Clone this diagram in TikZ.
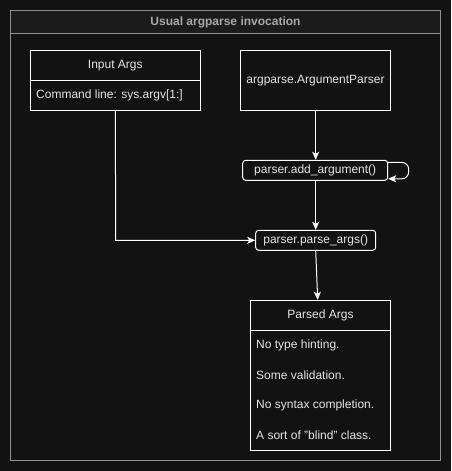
\documentclass[tikz,border=0pt]{standalone}
\usepackage{fontspec}
\setmainfont{Liberation Sans}
\usetikzlibrary{arrows.meta}
\definecolor{bg}{HTML}{121212}
\definecolor{hdr}{HTML}{1B1B1B}
\definecolor{frm}{HTML}{909090}
\definecolor{ttl}{HTML}{A8A8A8}
\definecolor{txt}{HTML}{E6E6E6}
\begin{document}
\begin{tikzpicture}[x=1pt,y=-1pt,
  box/.style={draw=white,line width=1pt,fill=bg,inner sep=0pt},
  rbox/.style={draw=white,line width=1pt,fill=bg,rounded corners=3pt,inner sep=0pt},
  lbl/.style={text=txt,font=\fontsize{12}{14}\selectfont,inner sep=0pt},
  conn/.style={draw=white,line width=1pt,-{Stealth[length=8pt,width=7pt,inset=2pt]}}]
\fill[bg] (0,0) rectangle (451,471);
\useasboundingbox (0,0) rectangle (451,471);
% outer frame
\node[draw=frm,line width=1pt,fill=hdr,minimum width=430.4pt,minimum height=23pt,inner sep=0pt] (hdr) at (225.5,21.8) {};
\draw[frm,line width=1pt] (10.3,33.3) rectangle (440.7,460.7);
\node[text=ttl,font=\bfseries\fontsize{12}{14}\selectfont] (title) at (225.5,22) {Usual argparse invocation};
% Input Args
\node[box,minimum width=170pt,minimum height=30.4pt] (inA) at (115.3,65.5) {};
\node[box,minimum width=170pt,minimum height=29.6pt] (inB) at (115.3,95.5) {};
\node[lbl] (inT) at (115.3,65.5) {Input Args};
\node[lbl,anchor=west] (inL) at (36,95.5) {Command line: sys.argv[1:]};
% ArgumentParser
\node[box,minimum width=150.4pt,minimum height=60pt] (ap) at (315.5,80.3) {};
\node[lbl] (apT) at (315.5,80.3) {argparse.ArgumentParser};
% add_argument
\node[rbox,minimum width=145pt,minimum height=20pt] (add) at (315.2,170.3) {};
\node[lbl] (addT) at (315.2,170.3) {parser.add\_argument()};
% parse_args
\node[rbox,minimum width=120pt,minimum height=20pt] (pa) at (315.7,240.3) {};
\node[lbl] (paT) at (315.7,240.3) {parser.parse\_args()};
% Parsed Args
\node[box,minimum width=140.4pt,minimum height=30pt] (pA) at (320.5,315.3) {};
\node[box,minimum width=140.4pt,minimum height=120pt] (pB) at (320.5,390.3) {};
\node[lbl] (pT) at (320.5,315.3) {Parsed Args};
\node[lbl,anchor=west] (p1) at (256,345) {No type hinting.};
\node[lbl,anchor=west] (p2) at (256,375) {Some validation.};
\node[lbl,anchor=west] (p3) at (256,405) {No syntax completion.};
\node[lbl,anchor=west] (p4) at (256,435) {A sort of "blind" class.};
% connectors
\coordinate (bend) at (115.7,240.3);
\draw[conn] (ap.south -| add.north) ++(0.5,0) -- ([xshift=0.5pt]add.north);
\draw[conn] ([xshift=0.5pt]add.south) -- (pa.north);
\draw[conn] (inB.south) -- (bend) -- (pa.west);
\draw[conn] (pa.south) -- ([xshift=-2.8pt]pA.north);
\coordinate (loopA) at ([yshift=8pt]add.east);
\coordinate (loopB) at ([yshift=-8.5pt]add.east);
\draw[conn,rounded corners=7pt] (loopA) -- ++(20.5,0) -- ++(0,16.5) -- (loopB);
\end{tikzpicture}
\end{document}
